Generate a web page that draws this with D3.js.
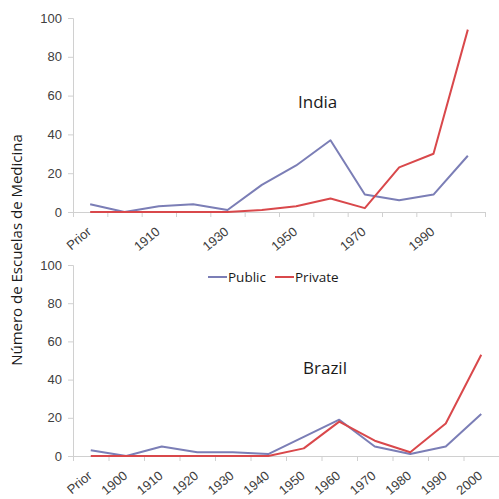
<!DOCTYPE html>
<html>
<head>
<meta charset="utf-8">
<script src="https://cdn.jsdelivr.net/npm/d3@7"></script>
<style>
  body { margin: 0; background: #fff; }
  svg { font-family: "Open Sans", sans-serif; }
  .tick text { fill: #404040; font-size: 13px; }
  .domain, .tick line { stroke: #d0d0d0; }
</style>
</head>
<body>
<svg width="499" height="499"></svg>
<script>
const categories = ['Prior', '1900', '1910', '1920', '1930', '1940', '1950', '1960', '1970', '1980', '1990', '2000'];

const indiaPublic  = [4, 0, 3, 4, 1, 14, 24, 37, 9, 6, 9, 29];
const indiaPrivate = [0, 0, 0, 0, 0, 1, 3, 7, 2, 23, 30, 94];

const brazilPublic  = [3, 0, 5, 2, 2, 1, 10, 19, 5, 1, 5, 22];
const brazilPrivate = [0, 0, 0, 0, 0, 0, 4, 18, 8, 2, 17, 53];

const yTicks = [0, 20, 40, 60, 80, 100];

const seriesNames = ['Public', 'Private'];
const colors = ['#7b7eb6', '#d9484b'];

const svg = d3.select('svg');

const drawPanel = (opts) => {
    const xBand = d3.scaleBand()
        .domain(categories)
        .range([opts.left, opts.right]);

    // boundaries between categories, for tick marks
    const xEdge = d3.scaleLinear()
        .domain([0, categories.length])
        .range([opts.left, opts.right]);

    const yScale = d3.scaleLinear()
        .domain([0, 100])
        .range([opts.bottom, opts.top]);

    const yAxis = d3.axisLeft(yScale)
        .tickValues(yTicks)
        .tickSize(5)
        .tickPadding(6);

    svg.append('g')
        .attr('transform', `translate(${opts.left}, 0)`)
        .call(yAxis);

    const edgeAxis = d3.axisBottom(xEdge)
        .tickValues(d3.range(categories.length + 1))
        .tickFormat('')
        .tickSizeOuter(0)
        .tickSize(5);

    svg.append('g')
        .attr('transform', `translate(0, ${opts.bottom})`)
        .call(edgeAxis);

    const labelAxis = d3.axisBottom(xBand)
        .tickSize(0)
        .tickFormat((d, i) => opts.everyOther && i % 2 ? '' : d);

    const labelG = svg.append('g')
        .attr('transform', `translate(0, ${opts.bottom})`)
        .call(labelAxis);
    labelG.select('.domain').remove();
    labelG.selectAll('.tick text')
        .attr('y', 0)
        .attr('dy', 0)
        .attr('text-anchor', 'end')
        .attr('transform', 'translate(2, 21) rotate(-40)');

    const line = d3.line()
        .x((d, i) => xBand(categories[i]) + xBand.bandwidth() / 2)
        .y(d => yScale(d));

    opts.series.forEach((values, k) => {
        svg.append('path')
            .attr('d', line(values))
            .attr('fill', 'none')
            .attr('stroke', colors[k])
            .attr('stroke-width', 2)
            .attr('stroke-linejoin', 'round');
    });

    svg.append('text')
        .attr('x', opts.titleX)
        .attr('y', opts.titleY)
        .attr('fill', '#1a1a1a')
        .style('font-size', '17px')
        .text(opts.title);
};

drawPanel({
    title: 'India', titleX: 298, titleY: 108,
    left: 73, right: 485, top: 18, bottom: 212,
    everyOther: true,
    series: [indiaPublic, indiaPrivate]
});

drawPanel({
    title: 'Brazil', titleX: 303, titleY: 374,
    left: 73, right: 499, top: 265, bottom: 456,
    everyOther: false,
    series: [brazilPublic, brazilPrivate]
});

// legend
const legendX = [208, 275];
const legend = svg.append('g')
    .attr('transform', 'translate(0, 277)');

seriesNames.forEach((name, k) => {
    legend.append('line')
        .attr('x1', legendX[k])
        .attr('x2', legendX[k] + 19)
        .attr('stroke', colors[k])
        .attr('stroke-width', 2);
    legend.append('text')
        .attr('x', legendX[k] + 20)
        .attr('dy', '0.35em')
        .attr('fill', '#1a1a1a')
        .style('font-size', '13.5px')
        .text(name);
});

svg.append('text')
    .attr('transform', 'translate(22, 250) rotate(-90)')
    .attr('text-anchor', 'middle')
    .attr('fill', '#1a1a1a')
    .style('font-size', '15px')
    .text('Número de Escuelas de Medicina');
</script>
</body>
</html>
